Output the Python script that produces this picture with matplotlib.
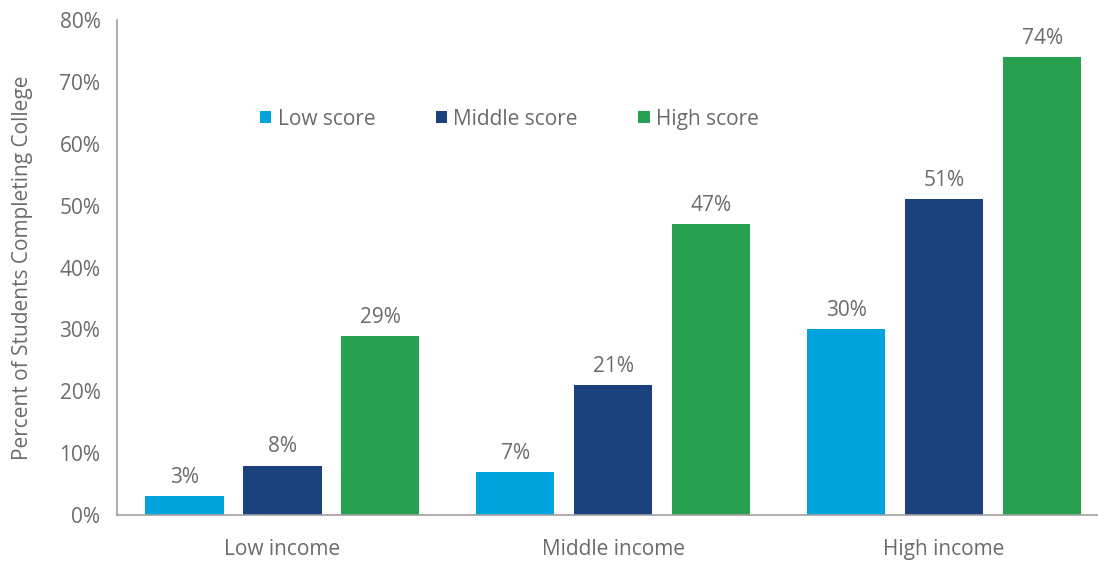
import matplotlib.pyplot as plt
import numpy as np

plt.rcParams['font.family'] = ['Open Sans', 'DejaVu Sans']

groups = ["Low income", "Middle income", "High income"]
series = ["Low score", "Middle score", "High score"]
low_score = [3, 7, 30]
middle_score = [8, 21, 51]
high_score = [29, 47, 74]
colors = ["#00a3dc", "#1b427d", "#27a050"]
text_gray = "#6b6b6b"

fig = plt.figure(figsize=(10.98, 5.61), dpi=100)
ax = fig.add_axes([0.1066, 0.082, 0.8934, 0.8823])

x = np.arange(len(groups))
width = 0.236
step = 0.296
for i, (name, vals) in enumerate(zip(series, [low_score, middle_score, high_score])):
    pos = x + (i - 1) * step
    bars = ax.bar(pos, vals, width, color=colors[i], label=name)
    for b, v in zip(bars, vals):
        ax.text(b.get_x() + b.get_width() / 2, v + 1.3, f"{v}%",
                ha="center", va="bottom", fontsize=15, color=text_gray)

ax.set_xlim(-0.5, 2.465)
ax.set_ylim(0, 80)
ax.set_yticks(range(0, 81, 10))
ax.set_yticklabels([f"{t}%" for t in range(0, 81, 10)])
ax.set_xticks(x)
ax.set_xticklabels(groups)
ax.tick_params(length=0, labelsize=15, colors=text_gray)
ax.tick_params(axis="y", pad=12)
ax.tick_params(axis="x", pad=17)

for s in ["top", "right"]:
    ax.spines[s].set_visible(False)
for s in ["left", "bottom"]:
    ax.spines[s].set_color("#a0a0a0")
    ax.spines[s].set_linewidth(1.2)

ax.set_ylabel("Percent of Students Completing College", fontsize=15,
              color=text_gray, labelpad=19)

leg = ax.legend(ncol=3, loc="center left", bbox_to_anchor=(0.135, 0.8),
                frameon=False, fontsize=15, handlelength=0.55, handleheight=0.55,
                handletextpad=0.3, columnspacing=2.9, borderpad=0)
for t in leg.get_texts():
    t.set_color(text_gray)

fig.savefig("out.png", dpi=100)
